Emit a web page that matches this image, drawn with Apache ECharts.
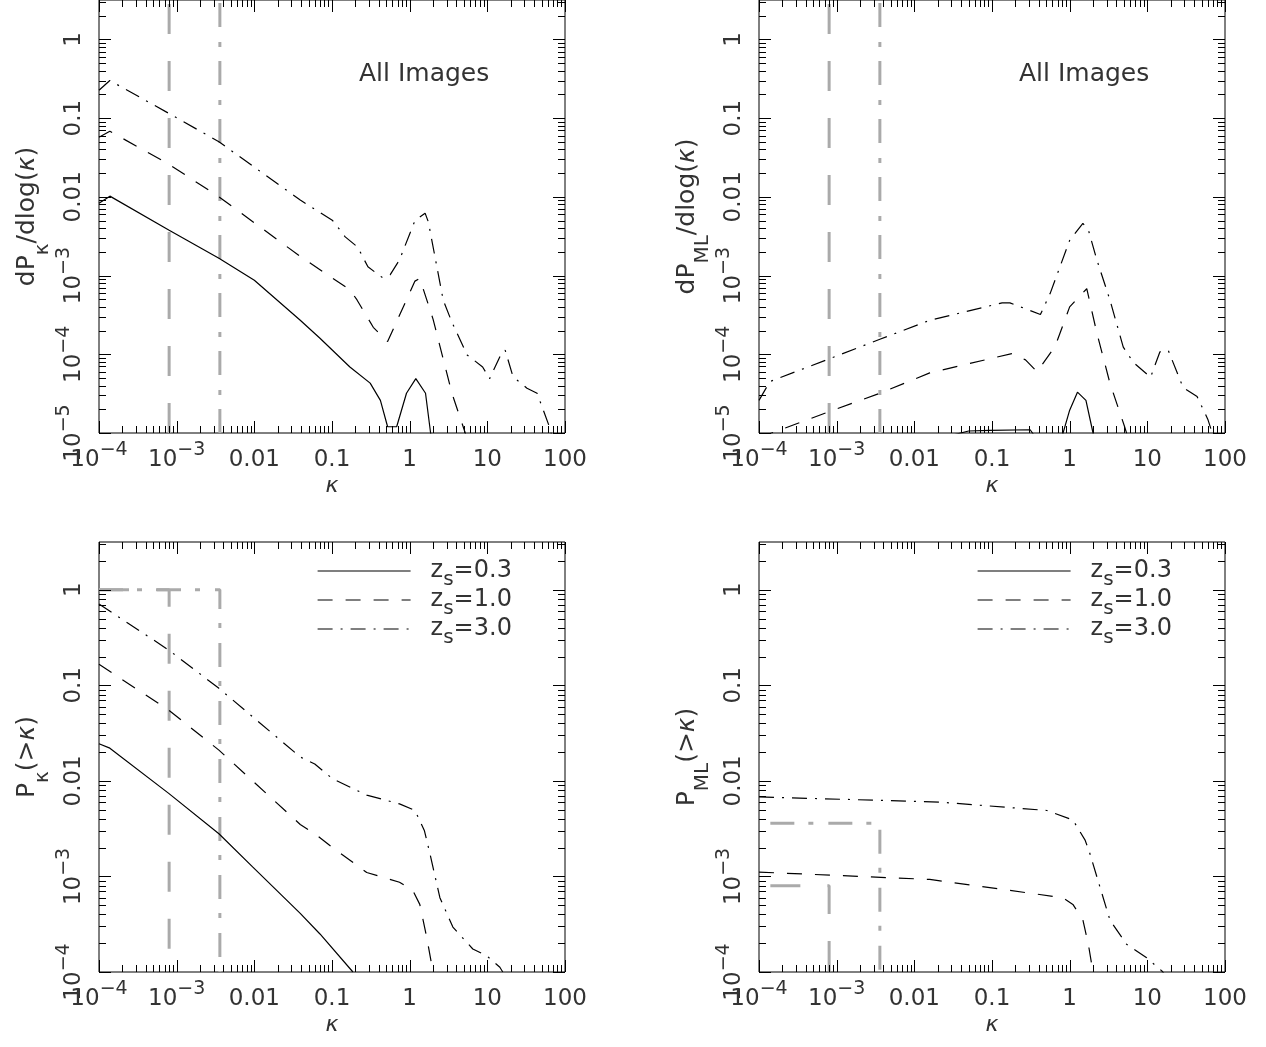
<!DOCTYPE html>
<html><head><meta charset="utf-8">
<script src="https://cdn.jsdelivr.net/npm/echarts@6/dist/echarts.min.js"></script>
<style>html,body{margin:0;padding:0;background:#fff}#c{width:1266px;height:1047px}</style>
</head><body><div id="c"></div>
<script>
// ---------- tick positions (decade exponents and minor multipliers) ----------
const xDecades = [-4, -3, -2, -1, 0, 1, 2];
const yDecadesTop = [-5, -4, -3, -2, -1, 0];
const yDecadesBottom = [-4, -3, -2, -1, 0];
const minorSteps = [2, 3, 4, 5, 6, 7, 8, 9];

// ---------- top-left: dP_kappa / dlog(kappa) ----------
const dPk_zs03 = [[1e-4,8.3e-3],[1.38e-4,1.02e-2],[7.9e-4,3.8e-3],[3.5e-3,1.66e-3],[1e-2,8.7e-4],[3.9e-2,2.7e-4],[7e-2,1.6e-4],[0.17,6.9e-5],[0.31,4.3e-5],[0.42,2.6e-5],[0.52,1.2e-5],[0.68,1.2e-5],[0.91,3.2e-5],[1.2,4.9e-5],[1.6,3.2e-5],[1.86,1e-5],[2.0,5e-6]];
const dPk_zs10 = [[1e-4,0.057],[1.38e-4,0.068],[7.9e-4,0.026],[3.5e-3,0.010],[3.9e-2,1.75e-3],[0.17,6.6e-4],[0.21,4.9e-4],[0.34,2.2e-4],[0.52,1.45e-4],[1.17,8.5e-4],[1.35,9.2e-4],[2.0,2.8e-4],[3.5,3.2e-5],[5.2,1.0e-5],[5.6,7e-6]];
const dPk_zs30 = [[1e-4,0.226],[1.38e-4,0.30],[7.9e-4,0.115],[3.5e-3,0.050],[3.9e-2,9.1e-3],[0.102,5.0e-3],[0.148,3.1e-3],[0.214,2.3e-3],[0.29,1.29e-3],[0.44,9.5e-4],[0.56,1.02e-3],[0.74,1.58e-3],[1.17,5.0e-3],[1.58,6.2e-3],[1.74,4.8e-3],[2.7,4.9e-4],[3.47,2.6e-4],[5.5,9.8e-5],[8.7,6.9e-5],[10.7,4.9e-5],[15.5,1.07e-4],[17.0,1.12e-4],[21.4,5.2e-5],[32.4,3.7e-5],[43.7,3.2e-5],[63,1.2e-5],[68,9e-6]];

// ---------- top-right: dP_ML / dlog(kappa) ----------
const dPml_zs03 = [[0.025,8.9e-6],[0.05,1.06e-5],[0.093,1.08e-5],[0.31,1.1e-5],[0.36,8.9e-6],[0.63,5e-6],[0.81,9.5e-6],[1.0,1.95e-5],[1.26,3.3e-5],[1.62,2.6e-5],[2.0,1.0e-5],[2.24,5e-6]];
const dPml_zs10 = [[1e-4,8.7e-6],[7.9e-4,1.86e-5],[3.6e-3,3.2e-5],[1.58e-2,5.8e-5],[0.18,1.02e-4],[0.27,8.5e-5],[0.38,6.0e-5],[0.65,1.26e-4],[1.0,4.0e-4],[1.66,6.8e-4],[2.24,1.86e-4],[3.3,4.3e-5],[5.1,1.2e-5],[5.6,8.9e-6]];
const dPml_zs30 = [[1e-4,2.6e-5],[1.38e-4,4.5e-5],[7.9e-4,8.7e-5],[3.6e-3,1.55e-4],[1.58e-2,2.7e-4],[0.135,4.5e-4],[0.17,4.5e-4],[0.42,3.2e-4],[0.56,5.9e-4],[1.0,2.8e-3],[1.48,4.6e-3],[1.74,3.8e-3],[2.24,1.58e-3],[3.3,4.9e-4],[4.9,1.23e-4],[6.6,7.9e-5],[11.0,5.1e-5],[14.5,1.07e-4],[18.6,1.12e-4],[28.8,3.8e-5],[43.7,2.9e-5],[60,1.5e-5],[71,9e-6]];

// ---------- bottom-left: P_kappa(>kappa) ----------
const Pk_zs03 = [[1e-4,2.45e-2],[1.38e-4,2.2e-2],[7.9e-4,7.4e-3],[3.5e-3,2.8e-3],[9.5e-3,1.26e-3],[3.9e-2,4.1e-4],[7e-2,2.5e-4],[0.186,1.0e-4]];
const Pk_zs10 = [[1e-4,0.166],[7.9e-4,0.055],[3.5e-3,0.021],[3.9e-2,3.5e-3],[6e-2,2.8e-3],[0.102,2.0e-3],[0.28,1.1e-3],[0.74,8.7e-4],[1.1,7.1e-4],[1.35,5.1e-4],[1.66,2.3e-4],[2.0,1.0e-4]];
const Pk_zs30 = [[1e-4,0.71],[7.9e-4,0.234],[3.5e-3,0.093],[3.9e-2,1.78e-2],[6e-2,1.5e-2],[0.102,1.05e-2],[0.28,7.1e-3],[0.74,5.75e-3],[1.17,4.9e-3],[1.55,3.0e-3],[1.82,1.74e-3],[2.45,6.0e-4],[3.6,2.95e-4],[6.5,1.74e-4],[9.8,1.48e-4],[14.5,1.12e-4],[15.8,1.0e-4]];

// ---------- bottom-right: P_ML(>kappa) ----------
const Pml_zs10 = [[1e-4,1.11e-3],[1.58e-2,9.3e-4],[0.81,6.0e-4],[1.1,5.1e-4],[1.48,3.5e-4],[1.74,1.95e-4],[1.95,1.12e-4],[2.04,9.5e-5]];
const Pml_zs30 = [[1e-4,6.8e-3],[2.1e-2,6.0e-3],[0.51,4.9e-3],[1.1,3.9e-3],[1.58,2.4e-3],[1.82,1.74e-3],[2.45,7.8e-4],[3.3,3.5e-4],[5.4,1.95e-4],[9.8,1.41e-4],[15.5,1.02e-4],[16.6,9.5e-5]];

// ---------- grey reference kappa lines ----------
const refDashDiff = [[8e-4,1e-5],[8e-4,3.16]];
const refDotDiff = [[3.6e-3,1e-5],[3.6e-3,3.16]];
const refDashPkCum = [[1e-4,1],[8e-4,1],[8e-4,1e-4]];
const refDotPkCum = [[1e-4,1],[3.6e-3,1],[3.6e-3,1e-4]];
const refDashPmlCum = [[1.4e-4,8e-4],[8e-4,8e-4],[8e-4,1e-4]];
const refDotPmlCum = [[1.4e-4,3.6e-3],[3.6e-3,3.6e-3],[3.6e-3,1e-4]];

const legendNames = ['zs03', 'zs10', 'zs30'];
const legendValues = {zs03: '0.3', zs10: '1.0', zs30: '3.0'};

// ---------- styling ----------
const FONT = 'DejaVu Sans';
const TXT = '#333';
const DASH = [15, 13];
const DASHDOT = [15, 8, 2, 8];
const GDASH = [30, 27];
const GDOT = [24, 14, 5, 15];

const tickRich = {
  b: {fontSize: 23, fontFamily: FONT, color: TXT, lineHeight: 31, verticalAlign: 'bottom'},
  p: {fontSize: 19, fontFamily: FONT, color: TXT, verticalAlign: 'top'}
};
const nameRich = {
  b: {fontSize: 25, fontFamily: FONT, color: TXT, lineHeight: 29, verticalAlign: 'top'},
  k: {fontSize: 25, fontFamily: FONT, color: TXT, fontStyle: 'italic', lineHeight: 29, verticalAlign: 'top'},
  s: {fontSize: 20, fontFamily: FONT, color: TXT, lineHeight: 38, verticalAlign: 'bottom'}
};
const labelMap = {'-2': '0.01', '-1': '0.1', '0': '1', '1': '10', '2': '100'};
function tickFmt(v) {
  const l = Math.log10(v);
  const e = Math.round(l);
  if (Math.abs(l - e) > 1e-6) return '';
  if (labelMap[e] !== undefined) return '{b|' + labelMap[e] + '}';
  return '{b|10}{p|\u2212' + (-e) + '}';
}

const grids = [
  {left: 99, top: 0, width: 466, height: 433},
  {left: 759, top: 0, width: 466, height: 433},
  {left: 99, top: 542, width: 466, height: 430},
  {left: 759, top: 542, width: 466, height: 430}
].map(g => Object.assign(g, {show: true, borderColor: '#000', borderWidth: 1, backgroundColor: 'transparent', containLabel: false, outerBoundsMode: 'none'}));

const yNames = [
  '{b|dP}{s|\u03BA}{b|/dlog(}{k|\u03BA}{b|)}',
  '{b|dP}{s|ML}{b|/dlog(}{k|\u03BA}{b|)}',
  '{b|P}{s|\u03BA}{b|(>}{k|\u03BA}{b|)}',
  '{b|P}{s|ML}{b|(>}{k|\u03BA}{b|)}'
];
const yMins = [1e-5, 1e-5, 1e-4, 1e-4];
const yMax = 3.1623;

const xAxes = grids.map((g, i) => ({
  type: 'log', logBase: 10, gridIndex: i, min: 1e-4, max: 100,
  axisLine: {show: false}, axisTick: {show: false}, splitLine: {show: false},
  axisLabel: {formatter: tickFmt, rich: tickRich, margin: 8, color: TXT, showMinLabel: true, showMaxLabel: true},
  name: '\u03BA', nameLocation: 'middle', nameGap: 42,
  nameTextStyle: {fontSize: 22, fontStyle: 'italic', fontFamily: FONT, color: TXT}
}));
const yAxes = grids.map((g, i) => ({
  type: 'log', logBase: 10, gridIndex: i, min: yMins[i], max: yMax,
  axisLine: {show: false}, axisTick: {show: false}, splitLine: {show: false},
  axisLabel: {formatter: tickFmt, rich: tickRich, rotate: 90, margin: 13, color: TXT, showMinLabel: true, showMaxLabel: false},
  name: yNames[i], nameLocation: 'middle', nameRotate: 90, nameGap: 46,
  nameTextStyle: {rich: nameRich, color: TXT}
}));

function tickData(yDecs) {
  const d = [];
  xDecades.forEach(e => {
    d.push([Math.pow(10, e), 1e-2, 1, 0]);
    if (e < 2) minorSteps.forEach(m => d.push([m * Math.pow(10, e), 1e-2, 0, 0]));
  });
  yDecs.forEach(e => {
    d.push([1, Math.pow(10, e), 1, 1]);
    minorSteps.forEach(m => { const v = m * Math.pow(10, e); if (v <= yMax) d.push([1, v, 0, 1]); });
  });
  return d;
}
function tickRender(params, api) {
  const cs = params.coordSys;
  const isY = api.value(3) === 1;
  const len = api.value(2) === 1 ? 12 : 7;
  const pt = api.coord([api.value(0), api.value(1)]);
  const st = {stroke: '#000', lineWidth: 1};
  if (!isY) {
    const x = Math.round(pt[0]) + 0.5, y0 = cs.y, y1 = cs.y + cs.height;
    return {type: 'group', children: [
      {type: 'line', shape: {x1: x, y1: y1, x2: x, y2: y1 - len}, style: st},
      {type: 'line', shape: {x1: x, y1: y0, x2: x, y2: y0 + len}, style: st}
    ]};
  }
  const y = Math.round(pt[1]) + 0.5, x0 = cs.x, x1 = cs.x + cs.width;
  return {type: 'group', children: [
    {type: 'line', shape: {x1: x0, y1: y, x2: x0 + len, y2: y}, style: st},
    {type: 'line', shape: {x1: x1, y1: y, x2: x1 - len, y2: y}, style: st}
  ]};
}

function curve(name, data, i, type) {
  return {type: 'line', name: name, xAxisIndex: i, yAxisIndex: i, data: data, symbol: 'none',
    showSymbol: false, clip: true, z: 3, silent: true,
    lineStyle: {color: '#000', width: 1.2, type: type}, itemStyle: {color: '#000'}};
}
function grey(name, data, i, type) {
  return {type: 'line', name: name, xAxisIndex: i, yAxisIndex: i, data: data, symbol: 'none',
    showSymbol: false, clip: true, z: 2, silent: true,
    lineStyle: {color: '#aaa', width: 3, type: type, cap: 'butt'}, itemStyle: {color: '#aaa'}};
}
function ticks(i, yDecs) {
  return {type: 'custom', xAxisIndex: i, yAxisIndex: i, data: tickData(yDecs),
    renderItem: tickRender, z: 5, silent: true, clip: false};
}

const series = [
  grey('refDash', refDashDiff, 0, GDASH), grey('refDot', refDotDiff, 0, GDOT),
  curve('zs03', dPk_zs03, 0, 'solid'), curve('zs10', dPk_zs10, 0, DASH), curve('zs30', dPk_zs30, 0, DASHDOT),
  grey('refDash', refDashDiff, 1, GDASH), grey('refDot', refDotDiff, 1, GDOT),
  curve('zs03', dPml_zs03, 1, 'solid'), curve('zs10', dPml_zs10, 1, DASH), curve('zs30', dPml_zs30, 1, DASHDOT),
  grey('refDash', refDashPkCum, 2, GDASH), grey('refDot', refDotPkCum, 2, GDOT),
  curve('zs03', Pk_zs03, 2, 'solid'), curve('zs10', Pk_zs10, 2, DASH), curve('zs30', Pk_zs30, 2, DASHDOT),
  grey('refDash', refDashPmlCum, 3, GDASH), grey('refDot', refDotPmlCum, 3, GDOT),
  curve('zs10', Pml_zs10, 3, DASH), curve('zs30', Pml_zs30, 3, DASHDOT),
  ticks(0, yDecadesTop), ticks(1, yDecadesTop), ticks(2, yDecadesBottom), ticks(3, yDecadesBottom)
];

const legendRich = {
  z: {fontSize: 24, fontFamily: FONT, color: TXT, verticalAlign: 'middle', padding: [0, 0, 0, 15]},
  s: {fontSize: 20, fontFamily: FONT, color: TXT, lineHeight: 38, verticalAlign: 'bottom'},
  t: {fontSize: 24, fontFamily: FONT, color: TXT, verticalAlign: 'middle'}
};
const legendLefts = [317, 977];
const legendTops = [559, 588, 617];
const legends = [];
legendLefts.forEach(lx => legendNames.forEach((n, j) => legends.push({
  data: [n], left: lx, top: legendTops[j], orient: 'vertical', padding: 0,
  itemWidth: 93, itemHeight: 14, selectedMode: false,
  itemStyle: {color: 'rgba(0,0,0,0)', borderColor: 'rgba(0,0,0,0)', borderWidth: 0, opacity: 0},
  lineStyle: {color: '#000', width: 1.2, opacity: 1},
  formatter: nm => '{z|z}{s|s}{t|=' + legendValues[nm] + '}',
  textStyle: {rich: legendRich, color: TXT}
})));

const titles = [359, 1019].map(x => ({
  text: 'All Images', left: x, top: 59, padding: 0,
  textStyle: {fontSize: 25, fontWeight: 'normal', fontFamily: FONT, color: TXT, lineHeight: 30}
}));

const chart = echarts.init(document.getElementById('c'), null, {renderer: 'canvas'});
chart.setOption({
  animation: false,
  backgroundColor: '#fff',
  textStyle: {fontFamily: FONT},
  title: titles,
  legend: legends,
  grid: grids,
  xAxis: xAxes,
  yAxis: yAxes,
  series: series
});
</script></body></html>
